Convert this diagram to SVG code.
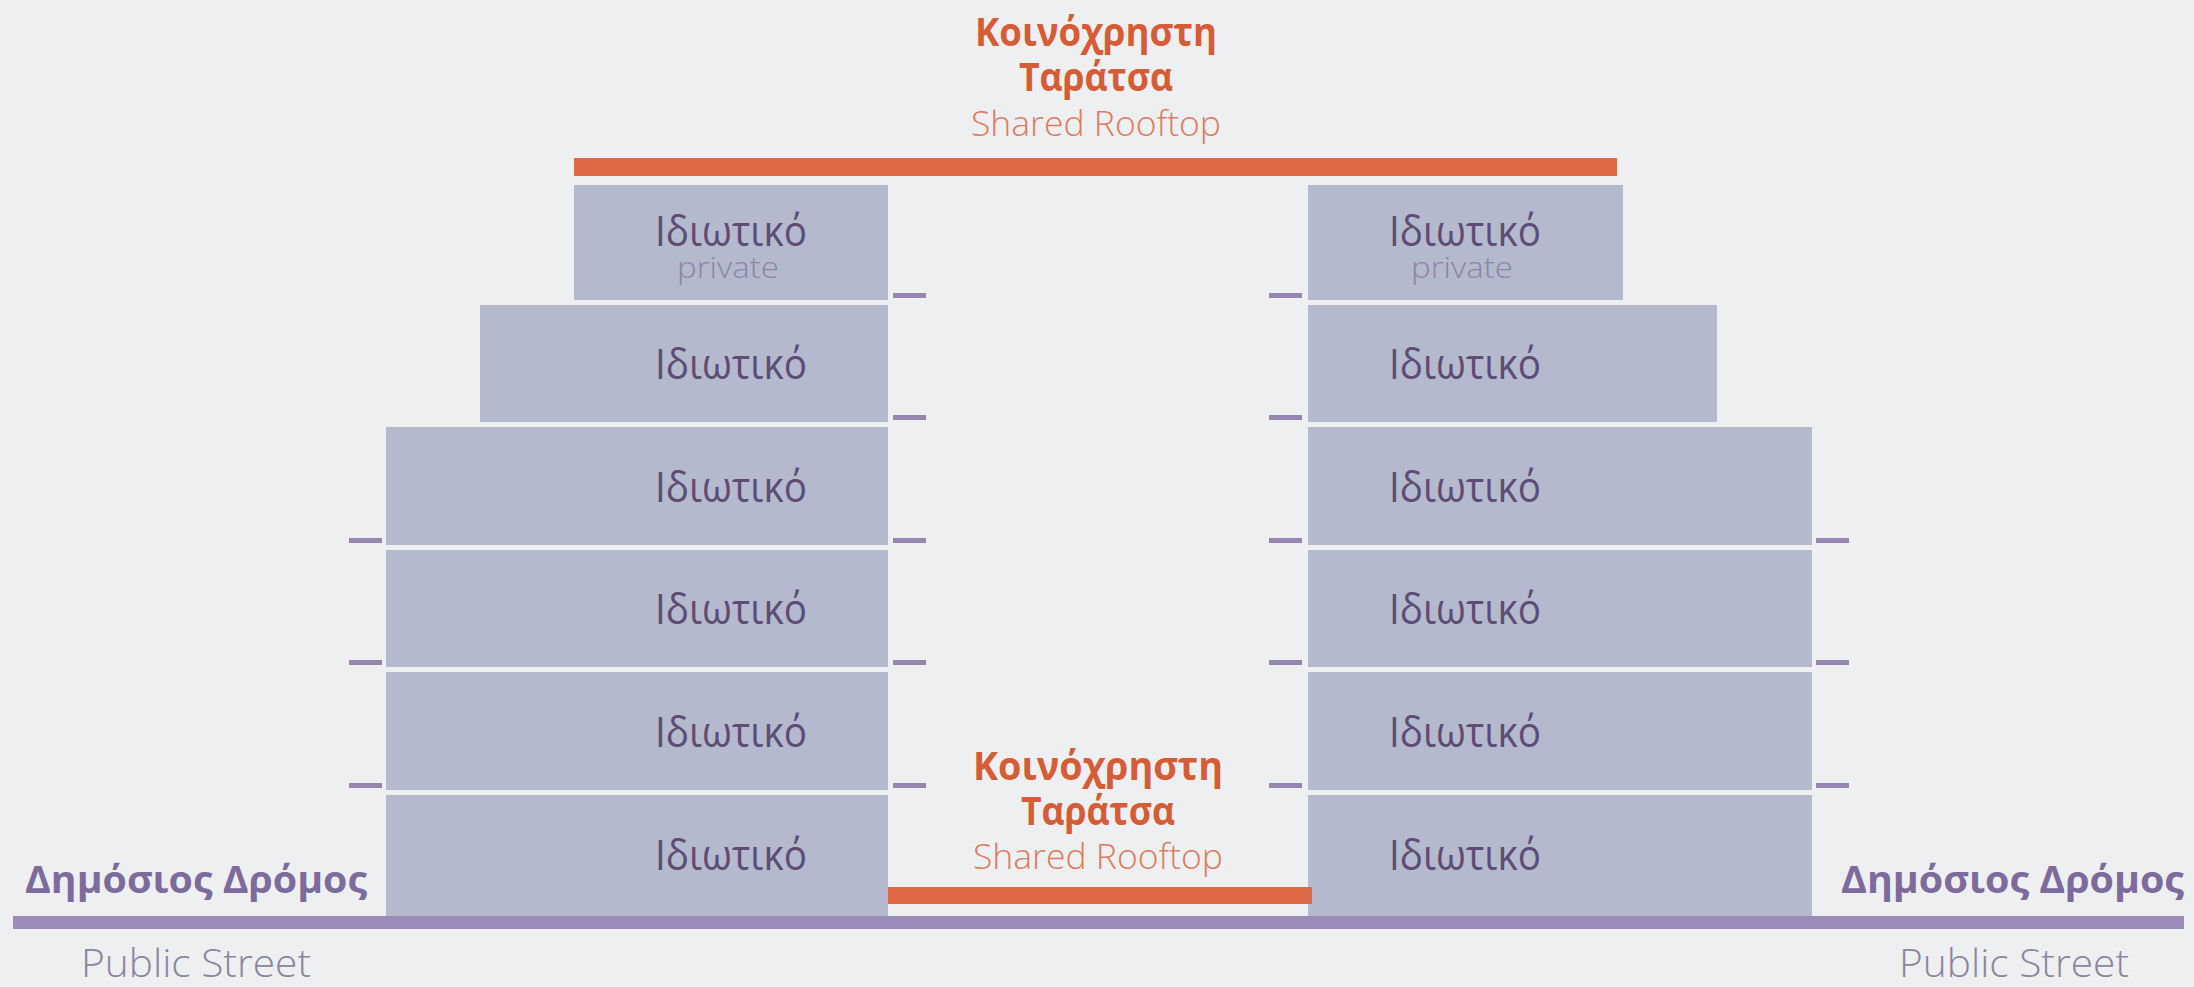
<svg xmlns="http://www.w3.org/2000/svg" width="2194" height="987" viewBox="0 0 2194 987">
<style>
.bg{fill:#eeeff0}
.floor{fill:#b4b9cd}
.priv{font-family:"Open Sans","Noto Sans","DejaVu Sans",sans-serif;font-size:42px;fill:#5d4d75;text-anchor:middle}
.privsub{font-family:"Open Sans","Noto Sans",sans-serif;font-weight:300;font-size:29px;fill:#8c86a4;text-anchor:middle}
.roof{fill:#de6945}
.ttl{font-family:"Open Sans","Noto Sans","DejaVu Sans",sans-serif;font-weight:700;font-size:40px;fill:#d65c36;text-anchor:middle}
.sub{font-family:"Open Sans","Noto Sans",sans-serif;font-weight:300;font-size:34px;fill:#df7b5c;text-anchor:middle}
.street{fill:#9c8abb}
.tick{fill:#9585b0}
.road{font-family:"Open Sans","Noto Sans","DejaVu Sans",sans-serif;font-weight:700;font-size:37px;fill:#7c6b9c}
.pub{font-family:"Open Sans","Noto Sans",sans-serif;font-weight:300;font-size:38px;fill:#8b86a0}
</style>
<rect class="bg" x="0" y="0" width="2194" height="987"/>

<g id="top-rooftop">
<text class="ttl" x="1096" y="46" textLength="242" lengthAdjust="spacingAndGlyphs">Κοινόχρηστη</text>
<text class="ttl" x="1096" y="91" textLength="154" lengthAdjust="spacingAndGlyphs">Ταράτσα</text>
<text class="sub" x="1096" y="136" textLength="250" lengthAdjust="spacingAndGlyphs">Shared Rooftop</text>
<rect class="roof" x="574" y="158" width="1043" height="18"/>
</g>

<g id="left-building">
<g id="left-floor-1"><rect class="floor" x="574" y="185" width="314" height="115"/>
<text class="priv" x="731" y="246" textLength="152" lengthAdjust="spacingAndGlyphs">Ιδιωτικό</text>
<text class="privsub" x="728" y="278" textLength="102" lengthAdjust="spacingAndGlyphs">private</text></g>
<g id="left-floor-2"><rect class="floor" x="480" y="305" width="408" height="117"/>
<text class="priv" x="731" y="379" textLength="152" lengthAdjust="spacingAndGlyphs">Ιδιωτικό</text></g>
<g id="left-floor-3"><rect class="floor" x="386" y="427" width="502" height="118"/>
<text class="priv" x="731" y="502" textLength="152" lengthAdjust="spacingAndGlyphs">Ιδιωτικό</text></g>
<g id="left-floor-4"><rect class="floor" x="386" y="550" width="502" height="117"/>
<text class="priv" x="731" y="624" textLength="152" lengthAdjust="spacingAndGlyphs">Ιδιωτικό</text></g>
<g id="left-floor-5"><rect class="floor" x="386" y="672" width="502" height="118"/>
<text class="priv" x="731" y="747" textLength="152" lengthAdjust="spacingAndGlyphs">Ιδιωτικό</text></g>
<g id="left-floor-6"><rect class="floor" x="386" y="795" width="502" height="121"/>
<text class="priv" x="731" y="870" textLength="152" lengthAdjust="spacingAndGlyphs">Ιδιωτικό</text></g>
</g>

<g id="right-building">
<g id="right-floor-1"><rect class="floor" x="1308" y="185" width="315" height="115"/>
<text class="priv" x="1465" y="246" textLength="152" lengthAdjust="spacingAndGlyphs">Ιδιωτικό</text>
<text class="privsub" x="1462" y="278" textLength="102" lengthAdjust="spacingAndGlyphs">private</text></g>
<g id="right-floor-2"><rect class="floor" x="1308" y="305" width="409" height="117"/>
<text class="priv" x="1465" y="379" textLength="152" lengthAdjust="spacingAndGlyphs">Ιδιωτικό</text></g>
<g id="right-floor-3"><rect class="floor" x="1308" y="427" width="504" height="118"/>
<text class="priv" x="1465" y="502" textLength="152" lengthAdjust="spacingAndGlyphs">Ιδιωτικό</text></g>
<g id="right-floor-4"><rect class="floor" x="1308" y="550" width="504" height="117"/>
<text class="priv" x="1465" y="624" textLength="152" lengthAdjust="spacingAndGlyphs">Ιδιωτικό</text></g>
<g id="right-floor-5"><rect class="floor" x="1308" y="672" width="504" height="118"/>
<text class="priv" x="1465" y="747" textLength="152" lengthAdjust="spacingAndGlyphs">Ιδιωτικό</text></g>
<g id="right-floor-6"><rect class="floor" x="1308" y="795" width="504" height="121"/>
<text class="priv" x="1465" y="870" textLength="152" lengthAdjust="spacingAndGlyphs">Ιδιωτικό</text></g>
</g>

<g id="bottom-rooftop">
<text class="ttl" x="1098" y="780" textLength="250" lengthAdjust="spacingAndGlyphs">Κοινόχρηστη</text>
<text class="ttl" x="1098" y="825" textLength="154" lengthAdjust="spacingAndGlyphs">Ταράτσα</text>
<text class="sub" x="1098" y="869" textLength="250" lengthAdjust="spacingAndGlyphs">Shared Rooftop</text>
<rect class="roof" x="888" y="887" width="424" height="17"/>
</g>

<g id="connectors">
<rect class="tick" x="893" y="293" width="33" height="5"/>
<rect class="tick" x="893" y="415" width="33" height="5"/>
<rect class="tick" x="893" y="538" width="33" height="5"/>
<rect class="tick" x="893" y="660" width="33" height="5"/>
<rect class="tick" x="893" y="783" width="33" height="5"/>
<rect class="tick" x="349" y="538" width="33" height="5"/>
<rect class="tick" x="349" y="660" width="33" height="5"/>
<rect class="tick" x="349" y="783" width="33" height="5"/>
<rect class="tick" x="1269" y="293" width="33" height="5"/>
<rect class="tick" x="1269" y="415" width="33" height="5"/>
<rect class="tick" x="1269" y="538" width="33" height="5"/>
<rect class="tick" x="1269" y="660" width="33" height="5"/>
<rect class="tick" x="1269" y="783" width="33" height="5"/>
<rect class="tick" x="1816" y="538" width="33" height="5"/>
<rect class="tick" x="1816" y="660" width="33" height="5"/>
<rect class="tick" x="1816" y="783" width="33" height="5"/>
</g>

<g id="street">
<rect class="street" x="13" y="916" width="2171" height="13"/>
<text class="road" x="25" y="893" textLength="342" lengthAdjust="spacingAndGlyphs">Δημόσιος Δρόμος</text>
<text class="road" x="1841" y="893" textLength="343" lengthAdjust="spacingAndGlyphs">Δημόσιος Δρόμος</text>
<text class="pub" x="81" y="977" textLength="230" lengthAdjust="spacingAndGlyphs">Public Street</text>
<text class="pub" x="1899" y="977" textLength="230" lengthAdjust="spacingAndGlyphs">Public Street</text>
</g>
</svg>
